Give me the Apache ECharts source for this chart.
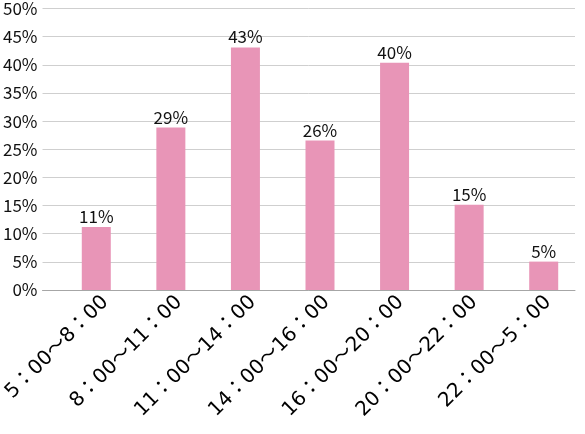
<!DOCTYPE html>
<html>
<head>
<meta charset="utf-8">
<script src="https://cdn.jsdelivr.net/npm/echarts@6/dist/echarts.min.js"></script>
<style>html,body{margin:0;padding:0;background:#fff}#c{width:585px;height:434px}</style>
</head>
<body>
<div id="c"></div>
<script>
const categories = ['5：00～8：00','8：00～11：00','11：00～14：00','14：00～16：00','16：00～20：00','20：00～22：00','22：00～5：00'];
const values = [11.1, 28.6, 42.7, 26.3, 40.0, 15.0, 5.0];
const yMin = 0, yMax = 50, yStep = 5;

const FONT = '"Noto Sans CJK JP", "Noto Sans", sans-serif';
const XFONT = '"DejaVu Sans", "Noto Sans CJK JP", sans-serif';
const chart = echarts.init(document.getElementById('c'), null, {renderer: 'canvas'});
chart.setOption({
  animation: false,
  backgroundColor: '#fff',
  grid: [
    {left: 42, right: 10, top: 6, bottom: 144},
    {left: 59, right: 4, top: 6, bottom: 144},
    {left: 68, right: -5, top: 6, bottom: 144}
  ],
  xAxis: [
    {gridIndex: 0, type: 'category', data: categories, show: true,
     axisLine: {show: true, lineStyle: {color: '#a6a6a6', width: 1}},
     axisTick: {show: false}, axisLabel: {show: false}},
    {gridIndex: 1, type: 'category', data: categories,
     axisLine: {show: false}, axisTick: {show: false}, axisLabel: {show: false}},
    {gridIndex: 2, type: 'category', data: categories,
     axisLine: {show: false}, axisTick: {show: false},
     axisLabel: {rotate: 45, margin: 9, fontSize: 20, color: '#000', fontFamily: XFONT, interval: 0}}
  ],
  yAxis: [
    {gridIndex: 0, type: 'value', min: yMin, max: yMax, interval: yStep,
     axisLine: {show: false}, axisTick: {show: false},
     splitLine: {lineStyle: {color: '#cfcfcf', width: 1}},
     axisLabel: {formatter: '{value}%', fontSize: 17, color: '#111', fontFamily: FONT, margin: 5}},
    {gridIndex: 1, type: 'value', min: yMin, max: yMax, interval: yStep, show: false,
     splitLine: {show: false}},
    {gridIndex: 2, type: 'value', min: yMin, max: yMax, interval: yStep, show: false,
     splitLine: {show: false}}
  ],
  series: [{
    type: 'bar', xAxisIndex: 1, yAxisIndex: 1, data: values,
    barWidth: 29,
    itemStyle: {color: '#e895b7'},
    label: {show: true, position: 'top', distance: 2, fontSize: 17, color: '#111', fontFamily: FONT,
      formatter: p => Math.round(p.value) + '%'}
  }]
});
</script>
</body>
</html>
